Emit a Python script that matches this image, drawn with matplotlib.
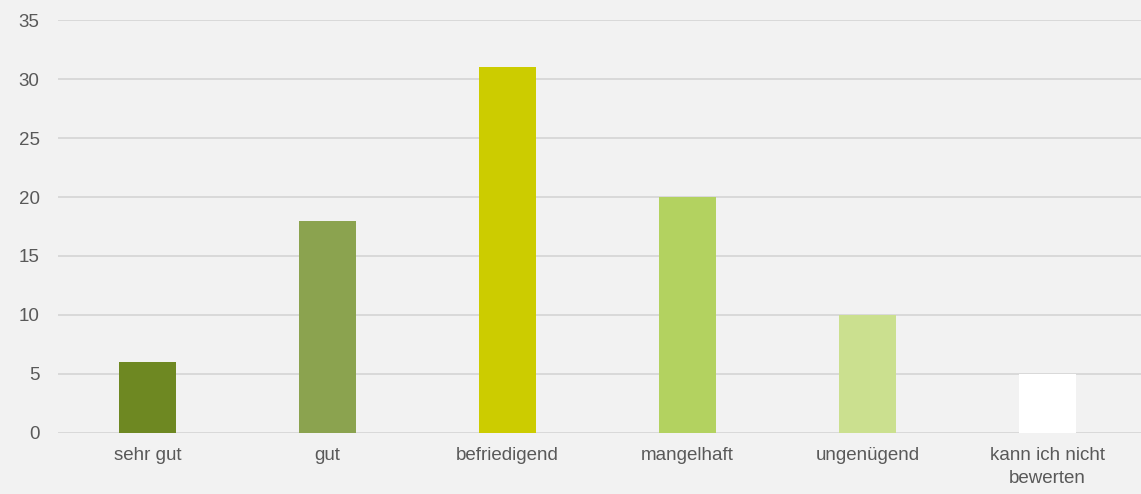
import matplotlib
matplotlib.use("Agg")
import matplotlib.pyplot as plt

categories = ["sehr gut", "gut", "befriedigend", "mangelhaft", "ungenügend", "kann ich nicht\nbewerten"]
values = [6, 18, 31, 20, 10, 5]
colors = ["#6E8822", "#8BA34F", "#CCCC00", "#B3D260", "#CBE08F", "#FFFFFF"]
yticks = [0, 5, 10, 15, 20, 25, 30, 35]

plt.rcParams['font.family'] = ['Liberation Sans', 'DejaVu Sans']

fig = plt.figure(figsize=(11.41, 4.94), dpi=100, facecolor="#F2F2F2")
ax = fig.add_axes([0.0505, 0.1235, 0.9495, 0.836])
ax.set_facecolor("#F2F2F2")

x = list(range(len(categories)))
ax.bar(x, values, width=0.317, color=colors, zorder=3)

ax.set_xlim(-0.5, 5.52)
ax.set_ylim(0, 35)
ax.set_yticks(yticks)
ax.set_xticks(x)
ax.set_xticklabels(categories, linespacing=1.45)
ax.yaxis.grid(True, color="#D9D9D9", linewidth=1.4, zorder=0)
ax.set_axisbelow(True)
for s in ax.spines.values():
    s.set_visible(False)
ax.tick_params(axis='both', length=0, colors="#595959", labelsize=13.5)
ax.tick_params(axis='y', pad=13)
ax.tick_params(axis='x', pad=10)

fig.savefig("out.png", dpi=100, facecolor=fig.get_facecolor())
